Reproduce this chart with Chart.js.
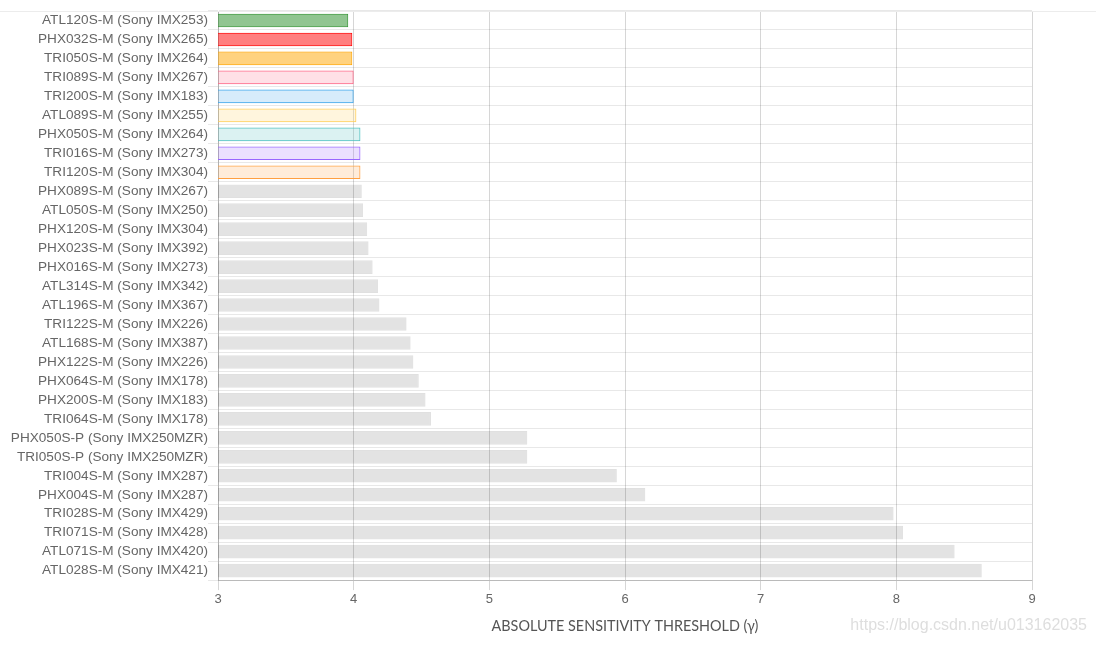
<!DOCTYPE html>
<html>
<head>
<meta charset="utf-8">
<script src="https://cdn.jsdelivr.net/npm/chart.js@4"></script>
<style>
  html, body { margin: 0; padding: 0; background: #fff; }
  #wrap { position: relative; width: 1096px; height: 645px; }
  #topline { position: absolute; left: 0; right: 0; top: 11px; border-top: 1px solid #ececec; }
  #mark { position: absolute; right: 9px; top: 616px; font: 16px "Liberation Sans", Arial, sans-serif; color: #dedede; }
</style>
</head>
<body>
<div id="wrap">
  <div id="topline"></div>
  <canvas id="myBarChart" width="1096" height="645"></canvas>
  <div id="mark">https://blog.csdn.net/u013162035</div>
</div>
<script>
var cameraLabels = [
  'ATL120S-M (Sony IMX253)', 'PHX032S-M (Sony IMX265)', 'TRI050S-M (Sony IMX264)',
  'TRI089S-M (Sony IMX267)', 'TRI200S-M (Sony IMX183)', 'ATL089S-M (Sony IMX255)',
  'PHX050S-M (Sony IMX264)', 'TRI016S-M (Sony IMX273)', 'TRI120S-M (Sony IMX304)',
  'PHX089S-M (Sony IMX267)', 'ATL050S-M (Sony IMX250)', 'PHX120S-M (Sony IMX304)',
  'PHX023S-M (Sony IMX392)', 'PHX016S-M (Sony IMX273)', 'ATL314S-M (Sony IMX342)',
  'ATL196S-M (Sony IMX367)', 'TRI122S-M (Sony IMX226)', 'ATL168S-M (Sony IMX387)',
  'PHX122S-M (Sony IMX226)', 'PHX064S-M (Sony IMX178)', 'PHX200S-M (Sony IMX183)',
  'TRI064S-M (Sony IMX178)', 'PHX050S-P (Sony IMX250MZR)', 'TRI050S-P (Sony IMX250MZR)',
  'TRI004S-M (Sony IMX287)', 'PHX004S-M (Sony IMX287)', 'TRI028S-M (Sony IMX429)',
  'TRI071S-M (Sony IMX428)', 'ATL071S-M (Sony IMX420)', 'ATL028S-M (Sony IMX421)'
];

var thresholdData = [
  3.96, 3.99, 3.99, 4.00, 4.00, 4.02, 4.05, 4.05, 4.05, 4.06,
  4.07, 4.10, 4.11, 4.14, 4.18, 4.19, 4.39, 4.42, 4.44, 4.48,
  4.53, 4.57, 5.28, 5.28, 5.94, 6.15, 7.98, 8.05, 8.43, 8.63
];

var xTicks = [3, 4, 5, 6, 7, 8, 9];

// first nine bars are highlighted, rest grey
var highlightFill = [
  'rgba(34, 139, 34, 0.5)',
  'rgba(255, 0, 0, 0.5)',
  'rgba(255, 165, 0, 0.5)',
  'rgba(255, 99, 132, 0.2)',
  'rgba(54, 162, 235, 0.2)',
  'rgba(255, 206, 86, 0.2)',
  'rgba(75, 192, 192, 0.2)',
  'rgba(153, 102, 255, 0.2)',
  'rgba(255, 159, 64, 0.2)'
];
var highlightBorder = [
  'rgba(34, 139, 34, 0.9)',
  'rgba(255, 0, 0, 1)',
  'rgba(255, 165, 0, 1)',
  'rgba(255, 99, 132, 1)',
  'rgba(54, 162, 235, 1)',
  'rgba(255, 206, 86, 1)',
  'rgba(75, 192, 192, 1)',
  'rgba(153, 102, 255, 1)',
  'rgba(255, 159, 64, 1)'
];

var fills = [], borders = [];
for (var i = 0; i < thresholdData.length; i++) {
  fills.push(i < highlightFill.length ? highlightFill[i] : 'rgba(0, 0, 0, 0.11)');
  borders.push(i < highlightBorder.length ? highlightBorder[i] : 'rgba(0, 0, 0, 0.12)');
}

var ctx = document.getElementById('myBarChart');
var myBarChart = new Chart(ctx, {
  type: 'bar',
  data: {
    labels: cameraLabels,
    datasets: [{
      label: 'Absolute sensitivity threshold',
      data: thresholdData,
      backgroundColor: fills,
      borderColor: borders,
      borderWidth: 1
    }]
  },
  options: {
    indexAxis: 'y',
    responsive: false,
    animation: false,
    layout: { padding: { top: 11, right: 64, left: 0, bottom: 6 } },
    plugins: {
      legend: { display: false },
      tooltip: { enabled: false }
    },
    scales: {
      x: {
        min: 3,
        max: 9,
        afterBuildTicks: function (axis) {
          axis.ticks = xTicks.map(function (v) { return { value: v }; });
        },
        grid: { color: 'rgba(0, 0, 0, 0.16)', tickLength: 10 },
        border: { color: 'rgba(0, 0, 0, 0.2)' },
        ticks: { color: '#666', font: { family: 'Liberation Sans', size: 13 }, padding: 2 },
        title: {
          display: true,
          text: 'ABSOLUTE SENSITIVITY THRESHOLD (\u03b3)',
          color: '#555',
          font: { family: 'Lato', size: 14.4 },
          padding: { top: 8 }
        }
      },
      y: {
        afterFit: function (axis) { axis.width = 218; },
        grid: { color: 'rgba(0, 0, 0, 0.09)', tickLength: 10 },
        border: { color: 'rgba(0, 0, 0, 0.18)' },
        ticks: { color: '#666', font: { family: 'Liberation Sans', size: 13.6 }, padding: 0, autoSkip: false }
      }
    }
  }
});
</script>
</body>
</html>
